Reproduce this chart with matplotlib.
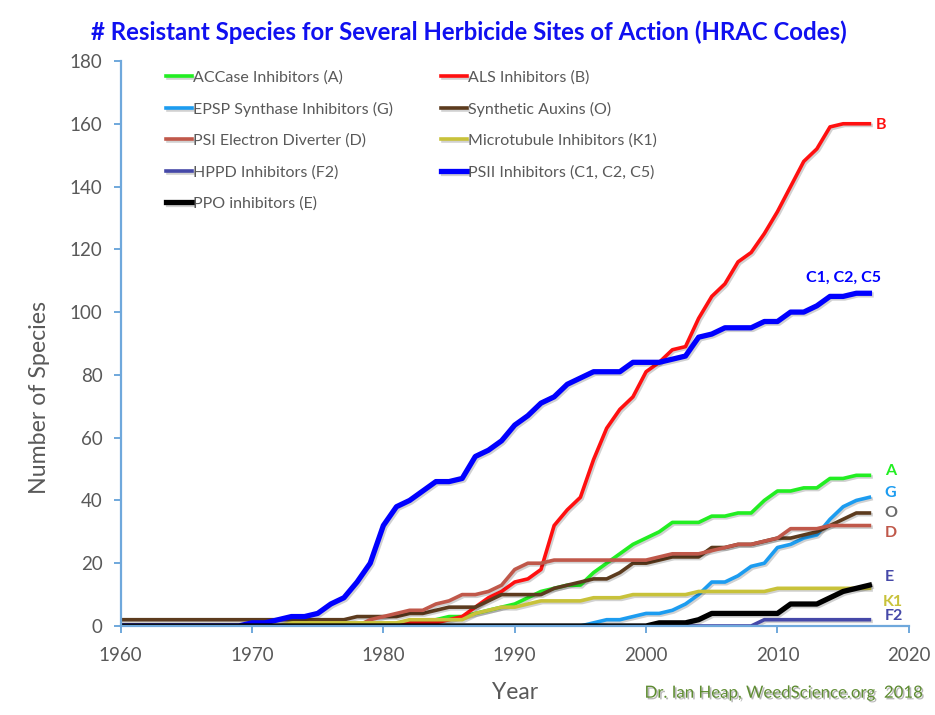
import numpy as np
import matplotlib.pyplot as plt
import matplotlib.patheffects as pe

plt.rcParams['font.family'] = ['Lato', 'DejaVu Sans']

years = list(range(1960, 2018))

# number of resistant species per year, 1960 .. 2017
accase = [0, 0, 0, 0, 0, 0, 0, 0, 0, 0,
          0, 0, 0, 0, 0, 0, 0, 0, 0, 0,
          0, 0, 1, 1, 2, 3, 3, 4, 5, 6,
          7, 9, 11, 12, 13, 13, 17, 20, 23, 26,
          28, 30, 33, 33, 33, 35, 35, 36, 36, 40,
          43, 43, 44, 44, 47, 47, 48, 48]
als = [0, 0, 0, 0, 0, 0, 0, 0, 0, 0,
       0, 0, 0, 0, 0, 0, 0, 0, 0, 0,
       0, 0, 1, 1, 1, 2, 3, 6, 9, 11,
       14, 15, 18, 32, 37, 41, 53, 63, 69, 73,
       81, 84, 88, 89, 98, 105, 109, 116, 119, 125,
       132, 140, 148, 152, 159, 160, 160, 160]
epsp = [0, 0, 0, 0, 0, 0, 0, 0, 0, 0,
        0, 0, 0, 0, 0, 0, 0, 0, 0, 0,
        0, 0, 0, 0, 0, 0, 0, 0, 0, 0,
        0, 0, 0, 0, 0, 0, 1, 2, 2, 3,
        4, 4, 5, 7, 10, 14, 14, 16, 19, 20,
        25, 26, 28, 29, 34, 38, 40, 41]
auxins = [2, 2, 2, 2, 2, 2, 2, 2, 2, 2,
          2, 2, 2, 2, 2, 2, 2, 2, 3, 3,
          3, 3, 4, 4, 5, 6, 6, 6, 8, 10,
          10, 10, 10, 12, 13, 14, 15, 15, 17, 20,
          20, 21, 22, 22, 22, 25, 25, 26, 26, 27,
          28, 28, 29, 30, 32, 34, 36, 36]
psi = [0, 0, 0, 0, 0, 0, 0, 0, 0, 0,
       0, 0, 0, 0, 0, 0, 0, 0, 0, 2,
       3, 4, 5, 5, 7, 8, 10, 10, 11, 13,
       18, 20, 20, 21, 21, 21, 21, 21, 21, 21,
       21, 22, 23, 23, 23, 24, 25, 26, 26, 27,
       28, 31, 31, 31, 32, 32, 32, 32]
microtubule = [0, 0, 0, 0, 0, 0, 0, 0, 0, 0,
               0, 0, 0, 1, 1, 1, 1, 1, 1, 1,
               1, 1, 2, 2, 2, 2, 2, 4, 5, 6,
               6, 7, 8, 8, 8, 8, 9, 9, 9, 10,
               10, 10, 10, 10, 11, 11, 11, 11, 11, 11,
               12, 12, 12, 12, 12, 12, 12, 12]
hppd = [0, 0, 0, 0, 0, 0, 0, 0, 0, 0,
        0, 0, 0, 0, 0, 0, 0, 0, 0, 0,
        0, 0, 0, 0, 0, 0, 0, 0, 0, 0,
        0, 0, 0, 0, 0, 0, 0, 0, 0, 0,
        0, 0, 0, 0, 0, 0, 0, 0, 0, 2,
        2, 2, 2, 2, 2, 2, 2, 2]
psii = [0, 0, 0, 0, 0, 0, 0, 0, 0, 0,
        1, 1, 2, 3, 3, 4, 7, 9, 14, 20,
        32, 38, 40, 43, 46, 46, 47, 54, 56, 59,
        64, 67, 71, 73, 77, 79, 81, 81, 81, 84,
        84, 84, 85, 86, 92, 93, 95, 95, 95, 97,
        97, 100, 100, 102, 105, 105, 106, 106]
ppo = [0, 0, 0, 0, 0, 0, 0, 0, 0, 0,
       0, 0, 0, 0, 0, 0, 0, 0, 0, 0,
       0, 0, 0, 0, 0, 0, 0, 0, 0, 0,
       0, 0, 0, 0, 0, 0, 0, 0, 0, 0,
       0, 1, 1, 1, 2, 4, 4, 4, 4, 4,
       4, 7, 7, 7, 9, 11, 12, 13]

labels = ['ACCase Inhibitors (A)', 'ALS Inhibitors (B)', 'EPSP Synthase Inhibitors (G)',
          'Synthetic Auxins (O)', 'PSI Electron Diverter (D)', 'Microtubule Inhibitors (K1)',
          'HPPD Inhibitors (F2)', 'PSII Inhibitors (C1, C2, C5)', 'PPO inhibitors (E)']
series = [accase, als, epsp, auxins, psi, microtubule, hppd, psii, ppo]
colors = ['#22EE22', '#FF1010', '#1C9CF0', '#5C3B1E', '#C0584A',
          '#C8C23A', '#4548A8', '#0000FF', '#000000']
widths = [2.6, 2.6, 2.6, 2.6, 2.6, 2.6, 2.6, 3.8, 3.8]

# end-of-line codes: text, colour, year, value
end_codes = ['B', 'C1, C2, C5', 'A', 'G', 'O', 'D', 'E', 'K1', 'F2']
end_colors = ['#FF1010', '#0000FF', '#22EE22', '#1C9CF0', '#6B6B6B', '#C0584A',
              '#4548A8', '#C8C23A', '#4548A8']
end_x = [2017.9, 2015.0, 2018.6, 2018.6, 2018.6, 2018.6, 2018.5, 2018.8, 2018.9]
end_y = [159.5, 111, 49.4, 42.4, 36, 29.6, 15.6, 7.6, 3.2]

fig = plt.figure(figsize=(9.35, 7.15), dpi=100)
ax = fig.add_axes([0.129, 0.1245, 0.843, 0.7902])

shadow = [pe.SimpleLineShadow(offset=(1.2, -1.2), alpha=0.18, shadow_color='black'), pe.Normal()]
lines = []
for vals, lab, c, w in zip(series, labels, colors, widths):
    ln, = ax.plot(years, vals, color=c, lw=w, label=lab, solid_joinstyle='round',
                  path_effects=shadow)
    lines.append(ln)

ax.set_xlim(1960, 2020)
ax.set_ylim(0, 180)
ax.set_xticks(range(1960, 2021, 10))
ax.set_yticks(range(0, 181, 20))

axis_blue = '#6FA8DC'
for s in ['top', 'right']:
    ax.spines[s].set_visible(False)
for s in ['left', 'bottom']:
    ax.spines[s].set_color(axis_blue)
    ax.spines[s].set_linewidth(1.6)
ax.tick_params(axis='both', colors=axis_blue, length=5, width=1.4, direction='out',
               labelcolor='#595959', labelsize=13.5)
ax.tick_params(axis='x', pad=10)
ax.tick_params(axis='y', pad=8)

ax.set_xlabel('Year', fontsize=16.5, color='#595959', labelpad=13)
ax.set_ylabel('Number of Species', fontsize=16.7, color='#595959')
ax.yaxis.set_label_coords(-0.089, 0.404)

fig.text(0.502, 0.955, '# Resistant Species for Several Herbicide Sites of Action (HRAC Codes)',
         ha='center', va='center', fontsize=17.3, fontweight='bold', color='#1010F0')

for t, c, x, y in zip(end_codes, end_colors, end_x, end_y):
    ax.text(x, y, t, color=c, fontsize=11.5, fontweight='bold', ha='center', va='center')

# legend in two columns, filled row by row like the original
col1 = [lines[i] for i in (0, 2, 4, 6, 8)]
col2 = [lines[i] for i in (1, 3, 5, 7)]
leg_kw = dict(loc='upper left', frameon=False, fontsize=11.5, handlelength=1.6,
              handletextpad=0.1, labelspacing=1.07, borderpad=0, labelcolor='#595959')
leg1 = ax.legend(handles=col1, bbox_to_anchor=(0.0475, 0.998), **leg_kw)
ax.add_artist(leg1)
ax.legend(handles=col2, bbox_to_anchor=(0.3965, 0.998), **leg_kw)

fig.text(0.986, 0.02, 'Dr. Ian Heap, WeedScience.org  2018', ha='right', va='bottom',
         fontsize=12.1, color='#5E8C31',
         path_effects=[pe.withSimplePatchShadow(offset=(1.2, -1.2), shadow_rgbFace='#888888', alpha=0.6)])

fig.savefig('out.png', dpi=100)
